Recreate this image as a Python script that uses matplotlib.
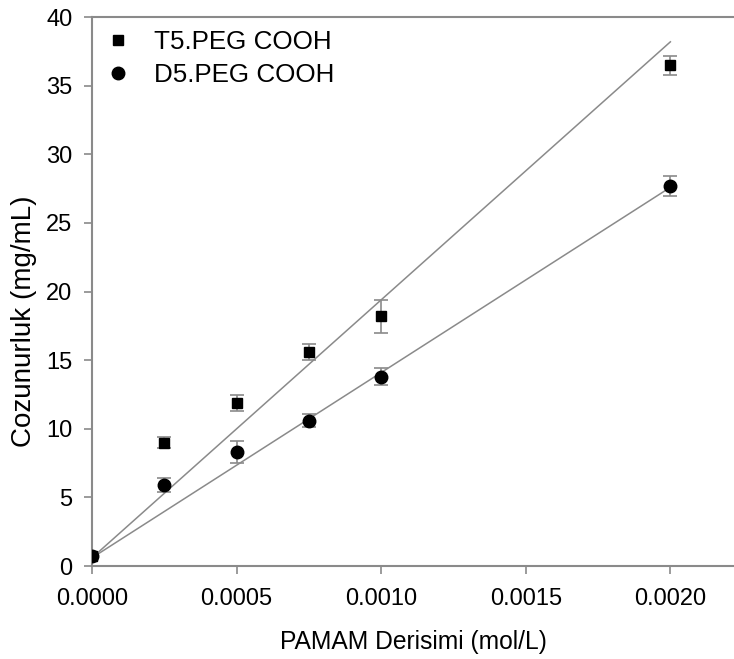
import matplotlib
matplotlib.use("Agg")
import matplotlib.pyplot as plt

plt.rcParams['font.family'] = ['Liberation Sans', 'DejaVu Sans']

# concentration (mol/L)
conc = [0.0, 0.00025, 0.0005, 0.00075, 0.0010, 0.0020]

# T5.PEG COOH
t5 = [0.7, 9.0, 11.9, 15.6, 18.2, 36.5]
t5_err = [0.0, 0.4, 0.6, 0.6, 1.2, 0.7]
# D5.PEG COOH
d5 = [0.7, 5.9, 8.3, 10.6, 13.8, 27.7]
d5_err = [0.0, 0.5, 0.8, 0.5, 0.6, 0.7]

# fitted lines (end points)
fit_x = [0.0, 0.0020]
fit_t5 = [0.6, 38.2]
fit_d5 = [0.6, 27.6]

grey = "#8a8a8a"

fig = plt.figure(figsize=(7.34, 6.59), dpi=100)
ax = fig.add_axes([0.1253, 0.141, 0.8747, 0.833])

ax.plot(fit_x, fit_t5, color=grey, lw=1.1, zorder=1)
ax.plot(fit_x, fit_d5, color=grey, lw=1.1, zorder=1)

ax.errorbar(conc, t5, yerr=t5_err, fmt='s', color='black', ms=7,
            ecolor=grey, elinewidth=1.2, capsize=5, capthick=1.2,
            label="T5.PEG COOH", zorder=3)
ax.errorbar(conc, d5, yerr=d5_err, fmt='o', color='black', ms=9,
            ecolor=grey, elinewidth=1.2, capsize=5, capthick=1.2,
            label="D5.PEG COOH", zorder=3)

ax.set_xlim(0, 0.00222)
ax.set_ylim(0, 40)
ax.set_xticks([0.0, 0.0005, 0.0010, 0.0015, 0.0020])
ax.set_xticklabels(["0.0000", "0.0005", "0.0010", "0.0015", "0.0020"])
ax.set_yticks(range(0, 41, 5))

for s in ["left", "bottom", "top"]:
    ax.spines[s].set_color(grey)
    ax.spines[s].set_linewidth(1.5)
ax.spines["right"].set_visible(False)
ax.tick_params(colors=grey, labelcolor="black", labelsize=17,
               length=6, width=1.2, direction="out")
ax.tick_params(axis="x", pad=10)
ax.tick_params(axis="y", pad=8)

ax.set_xlabel("PAMAM Derisimi (mol/L)", fontsize=17.7, labelpad=14)
ax.set_ylabel("Cozunurluk (mg/mL)", fontsize=20)
ax.yaxis.set_label_coords(-0.086, 0.446)

handles, labels = ax.get_legend_handles_labels()
handles = [h[0] for h in handles]
ax.legend(handles, labels, loc="upper left", frameon=False, fontsize=18.7,
          handletextpad=0.9, handlelength=1.0, borderaxespad=0.1,
          labelspacing=0.35, bbox_to_anchor=(0.0, 1.0))

fig.savefig("out.png", dpi=100)
